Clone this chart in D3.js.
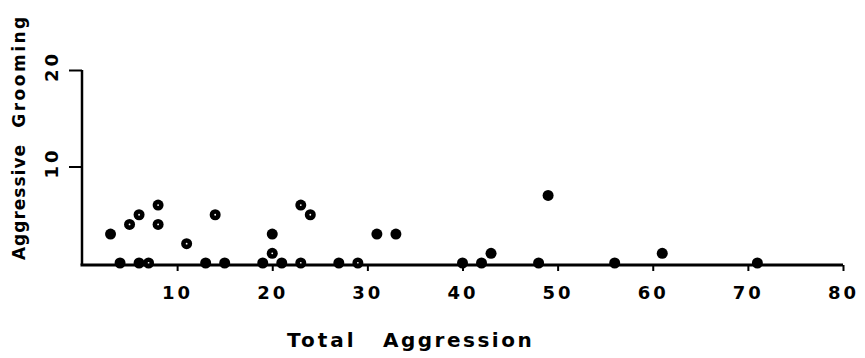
<!DOCTYPE html>
<html>
<head>
<meta charset="utf-8">
<script src="https://cdn.jsdelivr.net/npm/d3@7"></script>
<style>
  html, body { margin: 0; padding: 0; background: #fff; }
  svg { display: block; }
  text { font-family: "DejaVu Sans", "Liberation Sans", sans-serif; font-weight: bold; fill: #000; }
</style>
</head>
<body>
<svg id="chart" width="865" height="358"></svg>
<script>
// Axis ticks
const xTicks = [10, 20, 30, 40, 50, 60, 70, 80];
const yTicks = [10, 20];

// Solid markers: total aggression vs aggressive grooming
const solidAggression = [3, 20, 31, 33, 43, 49, 61, 4, 6, 13, 15, 19, 21, 27, 40, 42, 48, 56, 71];
const solidGrooming   = [3, 3, 3, 3, 1, 7, 1, 0, 0, 0, 0, 0, 0, 0, 0, 0, 0, 0, 0];

// Markers with a light centre
const dottedAggression = [5, 6, 8, 8, 11, 14, 20, 23, 24, 7, 23, 29];
const dottedGrooming   = [4, 5, 6, 4, 2, 5, 1, 6, 5, 0, 0, 0];

const svg = d3.select("#chart");

const x = d3.scaleLinear().domain([0, 80]).range([82, 843]);
const y = d3.scaleLinear().domain([0, 20]).range([263, 70]);

const solid = solidAggression.map((v, i) => ({ x: v, y: solidGrooming[i], dot: false }));
const dotted = dottedAggression.map((v, i) => ({ x: v, y: dottedGrooming[i], dot: true }));
const points = solid.concat(dotted);

// Points
const pts = svg.append("g");
pts.selectAll("circle.pt")
  .data(points)
  .join("circle")
  .attr("class", "pt")
  .attr("cx", d => x(d.x))
  .attr("cy", d => y(d.y))
  .attr("r", 5.5)
  .attr("fill", "#000");

pts.selectAll("circle.ctr")
  .data(points.filter(d => d.dot))
  .join("circle")
  .attr("class", "ctr")
  .attr("cx", d => x(d.x))
  .attr("cy", d => y(d.y))
  .attr("r", 0.9)
  .attr("fill", "#fff");

// X axis
const xAxis = svg.append("g")
  .attr("transform", "translate(0,265)")
  .call(d3.axisBottom(x).tickValues(xTicks).tickSize(6).tickSizeOuter(0).tickPadding(15)
    .tickFormat(d3.format("d")));
xAxis.select(".domain")
  .attr("d", `M${x(0) - 1.5},0H${x(80)}`)
  .attr("stroke", "#000").attr("stroke-width", 3);
xAxis.selectAll(".tick line").attr("stroke", "#000").attr("stroke-width", 2);
xAxis.selectAll(".tick text")
  .attr("font-size", 18)
  .style("letter-spacing", "3px")
  .attr("fill", "#000")
  .attr("font-family", null);

// Y axis
const yAxis = svg.append("g")
  .attr("transform", `translate(${x(0)},0)`)
  .call(d3.axisLeft(y).tickValues(yTicks).tickSize(13).tickSizeOuter(0));
yAxis.select(".domain")
  .attr("d", `M0,${y(0) + 2}V${y(20)}`)
  .attr("stroke", "#000").attr("stroke-width", 2.5);
yAxis.selectAll(".tick line").attr("stroke", "#000").attr("stroke-width", 2);
yAxis.selectAll(".tick text")
  .attr("x", null).attr("dy", null)
  .attr("transform", "translate(-24,-4) rotate(-90)")
  .attr("text-anchor", "middle")
  .attr("font-size", 18)
  .style("letter-spacing", "3px")
  .attr("font-family", null)
  .attr("fill", "#000");

// Axis titles
svg.append("text")
  .attr("x", 287).attr("y", 347)
  .attr("font-size", 20)
  .style("letter-spacing", "3px")
  .text("Total");
svg.append("text")
  .attr("x", 383).attr("y", 347)
  .attr("font-size", 20)
  .style("letter-spacing", "2.5px")
  .text("Aggression");

svg.append("text")
  .attr("transform", "translate(25,202) rotate(-90)")
  .attr("text-anchor", "middle")
  .attr("font-size", 17)
  .style("letter-spacing", "1px")
  .text("Aggressive");
svg.append("text")
  .attr("transform", "translate(25,71) rotate(-90)")
  .attr("text-anchor", "middle")
  .attr("font-size", 17)
  .style("letter-spacing", "2.5px")
  .text("Grooming");
</script>
</body>
</html>
